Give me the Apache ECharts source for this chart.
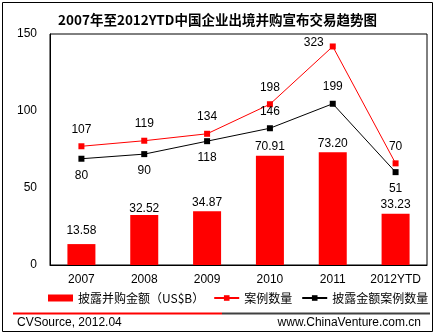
<!DOCTYPE html>
<html>
<head>
<meta charset="utf-8">
<script src="https://cdn.jsdelivr.net/npm/echarts@6/dist/echarts.min.js"></script>
<style>html,body{margin:0;padding:0;background:#fff}#c{width:435px;height:335px}</style>
</head>
<body>
<div id="c"></div>
<script>
const titleText = '2007年至2012YTD中国企业出境并购宣布交易趋势图';
const categories = ['2007', '2008', '2009', '2010', '2011', '2012YTD'];
const amountValues = [13.58, 32.52, 34.87, 70.91, 73.20, 33.23];
const dealCounts = [107, 119, 134, 198, 323, 70];
const disclosedCounts = [80, 90, 118, 146, 199, 51];
const seriesNames = ['披露并购金额（US$B）', '案例数量', '披露金额案例数量'];
const leftTicks = [0, 50, 100, 150];
const footerLeft = 'CVSource, 2012.04';
const footerRight = 'www.ChinaVenture.com.cn';

const FONT = 'Arial, "Liberation Sans", "Noto Sans CJK SC", sans-serif';
const chart = echarts.init(document.getElementById('c'), null, {renderer: 'canvas'});

const barLabelDist = [7, 0, 3, 3, 3, 3];
const blackPos = ['bottom', 'bottom', 'bottom', 'top', 'top', 'bottom'];

chart.setOption({
  animation: false,
  backgroundColor: '#fff',
  title: {
    text: titleText, left: 'center', top: 8,
    textStyle: {fontFamily: '"Noto Sans CJK SC", sans-serif', fontSize: 13.5, fontWeight: 'bold', color: '#000'}
  },
  grid: {left: 50, top: 34, right: 8, bottom: 70, show: true, borderColor: '#000', borderWidth: 1, backgroundColor: 'transparent'},
  legend: {
    left: 48, top: 292, width: 420, itemGap: 9, itemWidth: 25, itemHeight: 7, padding: 0,
    textStyle: {fontFamily: '"Noto Sans CJK SC", sans-serif', fontSize: 12, color: '#000'},
    data: [
      {name: seriesNames[0], icon: 'rect'},
      {name: seriesNames[1]},
      {name: seriesNames[2]}
    ]
  },
  xAxis: {
    type: 'category', data: categories,
    axisLine: {lineStyle: {color: '#000', width: 1}},
    axisTick: {show: false},
    axisLabel: {interval: 0, color: '#000', fontFamily: FONT, fontSize: 12, margin: 9}
  },
  yAxis: [{
    type: 'value', min: leftTicks[0], max: leftTicks[leftTicks.length - 1], interval: 50,
    axisLine: {show: true, lineStyle: {color: '#000'}},
    axisTick: {show: false},
    splitLine: {show: false},
    axisLabel: {color: '#000', fontFamily: FONT, fontSize: 12, margin: 13}
  }, {
    type: 'value', min: -150, max: 350, show: false, splitLine: {show: false}
  }],
  series: [{
    name: seriesNames[0], type: 'bar', barWidth: 28,
    itemStyle: {color: '#FF0000'},
    data: amountValues.map((v, i) => ({value: v, label: {distance: barLabelDist[i]}})),
    label: {show: true, position: 'top', color: '#000', fontFamily: FONT, fontSize: 12,
      formatter: p => p.value.toFixed(2)}
  }, {
    name: seriesNames[1], type: 'line', yAxisIndex: 1,
    symbol: 'rect', symbolSize: 6,
    lineStyle: {color: '#FF0000', width: 1}, itemStyle: {color: '#FF0000'},
    data: dealCounts.map((v, i) => i === 4
      ? {value: v, label: {position: 'left', distance: 6, offset: [0, -4]}}
      : {value: v}),
    label: {show: true, position: 'top', distance: 8, color: '#000', fontFamily: FONT, fontSize: 12}
  }, {
    name: seriesNames[2], type: 'line', yAxisIndex: 1,
    symbol: 'rect', symbolSize: 6,
    lineStyle: {color: '#000', width: 1}, itemStyle: {color: '#000'},
    data: disclosedCounts.map((v, i) => ({value: v, label: {position: blackPos[i]}})),
    label: {show: true, distance: 8, color: '#000', fontFamily: FONT, fontSize: 12}
  }],
  graphic: [
    {type: 'rect', shape: {x: 2.5, y: 2.5, width: 430, height: 329}, style: {fill: 'none', stroke: '#000', lineWidth: 1}, silent: true},
    {type: 'line', shape: {x1: 13, y1: 313.5, x2: 222, y2: 313.5}, style: {stroke: '#FF0000', lineWidth: 2}},
    {type: 'line', shape: {x1: 222, y1: 313.5, x2: 430, y2: 313.5}, style: {stroke: '#404040', lineWidth: 2}},
    {type: 'text', left: 17, top: 317, style: {text: footerLeft, font: '12px ' + FONT, fill: '#000'}},
    {type: 'text', right: 14, top: 317, style: {text: footerRight, font: '12px ' + FONT, fill: '#000'}}
  ]
});
</script>
</body>
</html>
